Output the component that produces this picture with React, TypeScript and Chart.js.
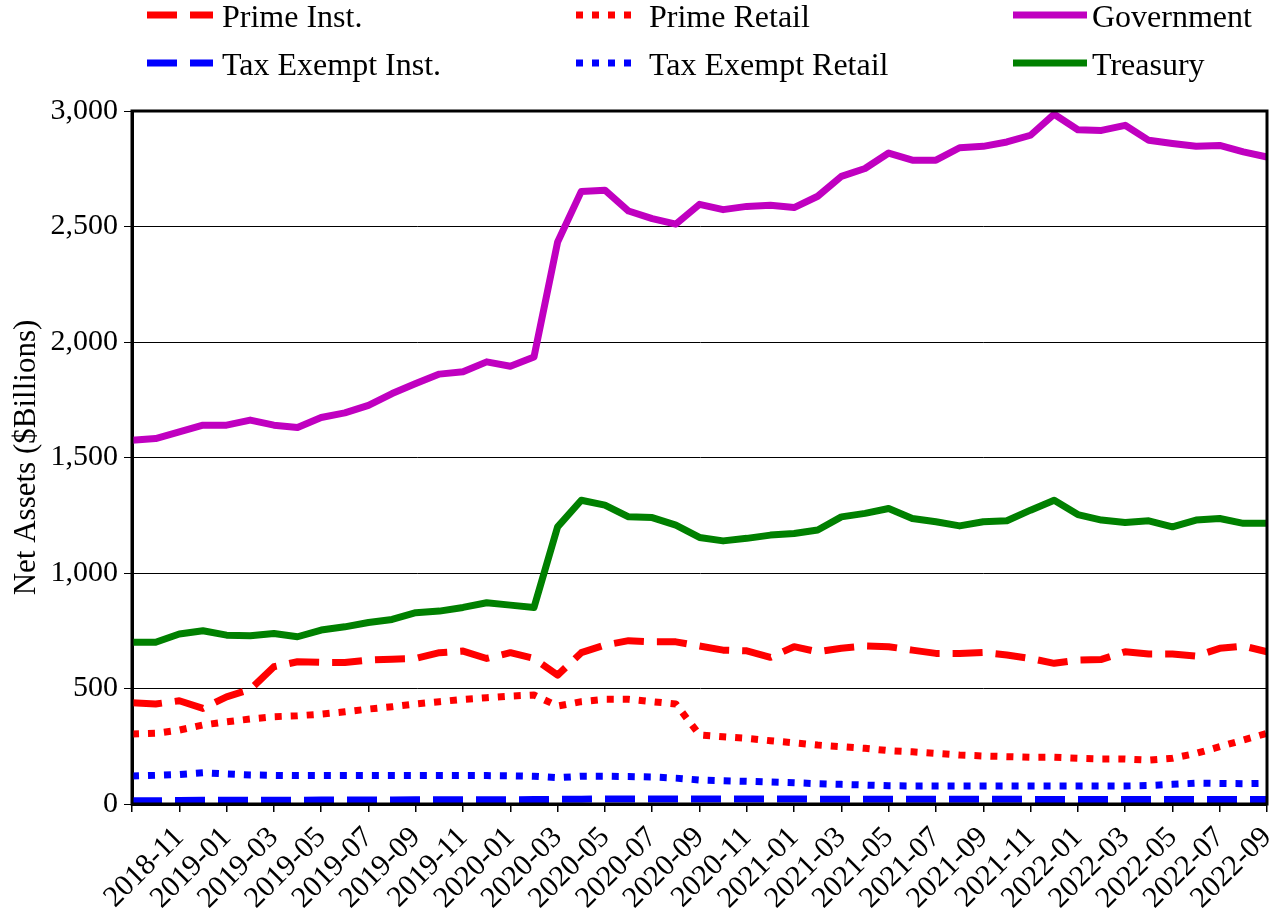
import React, { useEffect, useRef } from 'react';
import { Chart, registerables } from 'chart.js';

Chart.register(...registerables);

const months = [
  '2018-09', '2018-10', '2018-11', '2018-12',
  '2019-01', '2019-02', '2019-03', '2019-04', '2019-05', '2019-06', '2019-07', '2019-08', '2019-09', '2019-10', '2019-11', '2019-12',
  '2020-01', '2020-02', '2020-03', '2020-04', '2020-05', '2020-06', '2020-07', '2020-08', '2020-09', '2020-10', '2020-11', '2020-12',
  '2021-01', '2021-02', '2021-03', '2021-04', '2021-05', '2021-06', '2021-07', '2021-08', '2021-09', '2021-10', '2021-11', '2021-12',
  '2022-01', '2022-02', '2022-03', '2022-04', '2022-05', '2022-06', '2022-07', '2022-08', '2022-09',
];

const primeInst = [438, 433, 447, 414, 464, 496, 594, 616, 613, 613, 623, 627, 630, 655, 662, 630, 655, 630,
  558, 655, 688, 707, 702, 702, 684, 666, 663, 635, 681, 659, 674, 684, 681,
  666, 652, 652, 656, 645, 630, 609, 623, 626, 659, 649, 649, 640, 674, 684, 659];

const primeRetail = [303, 306, 320, 342, 356, 368, 378, 382, 389, 399, 411, 421, 433, 443, 453, 460, 467, 472,
  424, 443, 453, 453, 443, 433, 299, 291, 284, 274, 265, 255, 248, 241, 231,
  226, 219, 212, 208, 205, 202, 202, 198, 195, 195, 190, 198, 219, 248, 277, 306];

const government = [1575, 1582, 1611, 1640, 1640, 1662, 1640, 1630, 1673, 1693, 1726, 1777, 1820, 1861, 1871, 1914, 1895, 1935,
  2433, 2652, 2657, 2567, 2534, 2510, 2596, 2573, 2587, 2592, 2582, 2631, 2717, 2751, 2818,
  2787, 2787, 2841, 2847, 2866, 2895, 2986, 2919, 2916, 2938, 2873, 2859, 2847, 2851, 2823, 2801];

const taxExemptInst = [14, 14, 15, 16, 16, 16, 16, 16, 17, 17, 17, 17, 18, 18, 18, 18, 18, 19, 20, 21,
  22, 22, 22, 22, 22, 22, 22, 22, 22, 21, 21, 21, 21, 21, 21, 21, 21, 21,
  20, 20, 20, 20, 20, 20, 20, 20, 20, 20, 20];

const taxExemptRetail = [121, 124, 128, 135, 130, 126, 124, 123, 123, 123, 123, 123, 123, 123, 123, 123, 122, 120, 114, 120, 120, 119, 117, 112,
  104, 101, 98, 95, 92, 88, 85, 82, 79,
  78, 78, 78, 78, 78, 78, 78, 78, 78, 78,
  80, 85, 90, 89, 88, 89];

const treasury = [700, 700, 736, 750, 731, 728, 738, 724, 753, 767, 786, 799, 828, 835, 851, 871, 861, 851,
  1200, 1315, 1294, 1243, 1240, 1207, 1154, 1139, 1150, 1164, 1171, 1186, 1243, 1258, 1279,
  1236, 1222, 1204, 1222, 1226, 1272, 1315, 1253, 1229, 1219, 1226, 1200, 1229, 1236, 1215, 1215];

const yTicks = [0, 500, 1000, 1500, 2000, 2500, 3000];

const FONT = '"Liberation Serif", "Times New Roman", serif';
const DASH = [30, 13];
const DOT = [7, 9];

const legendCols = [
  { sx: 147, ex: 213, tx: 222 },
  { sx: 576, ex: 640, tx: 649 },
  { sx: 1013, ex: 1087, tx: 1092 },
];
const legendRows = [{ ly: 15, ty: 27 }, { ly: 63, ty: 75 }];

const gridLegend = {
  id: 'gridLegend',
  afterDraw(chart: any) {
    const ctx = chart.ctx;
    chart.data.datasets.forEach((ds: any, i: number) => {
      const col = legendCols[i % 3];
      const row = legendRows[Math.floor(i / 3)];
      ctx.save();
      ctx.strokeStyle = ds.borderColor;
      ctx.lineWidth = ds.borderWidth;
      ctx.lineCap = 'butt';
      ctx.setLineDash(ds.borderDash || []);
      ctx.beginPath();
      ctx.moveTo(col.sx, row.ly);
      ctx.lineTo(col.ex, row.ly);
      ctx.stroke();
      ctx.setLineDash([]);
      ctx.fillStyle = '#000';
      ctx.font = `32px ${FONT}`;
      ctx.textAlign = 'left';
      ctx.textBaseline = 'alphabetic';
      ctx.fillText(ds.label, col.tx, row.ty);
      ctx.restore();
    });
  },
};

const frame = {
  id: 'frame',
  afterDraw(chart: any) {
    const { ctx, chartArea } = chart;
    ctx.save();
    ctx.strokeStyle = '#000';
    ctx.lineWidth = 3;
    ctx.strokeRect(chartArea.left, chartArea.top, chartArea.right - chartArea.left, chartArea.bottom - chartArea.top);
    ctx.restore();
  },
};

function line(label: string, data: number[], color: string, dash: number[]) {
  return {
    label,
    data,
    borderColor: color,
    backgroundColor: color,
    borderWidth: 7,
    borderDash: dash,
    borderCapStyle: 'butt',
    borderJoinStyle: 'round',
    pointRadius: 0,
    pointHoverRadius: 0,
    tension: 0,
    fill: false,
  };
}

export default function App() {
  const ref = useRef<HTMLCanvasElement>(null);

  useEffect(() => {
    if (!ref.current) return;
    const chart = new Chart(ref.current, {
      type: 'line',
      data: {
        labels: months,
        datasets: [
          line('Prime Inst.', primeInst, '#FF0000', DASH),
          line('Prime Retail', primeRetail, '#FF0000', DOT),
          line('Government', government, '#C000C0', []),
          line('Tax Exempt Inst.', taxExemptInst, '#0000FF', DASH),
          line('Tax Exempt Retail', taxExemptRetail, '#0000FF', DOT),
          line('Treasury', treasury, '#008000', []),
        ] as any,
      },
      options: {
        animation: false,
        responsive: false,
        maintainAspectRatio: false,
        layout: { padding: { top: 111, right: 8, left: 0, bottom: 0 } },
        plugins: {
          legend: { display: false },
          tooltip: { enabled: false },
        },
        scales: {
          x: {
            type: 'category',
            offset: false,
            border: { display: true, color: '#000', width: 3 },
            grid: {
              drawOnChartArea: false,
              drawTicks: true,
              tickLength: 8,
              lineWidth: 1.5,
              color: (c: any) => (c.index % 2 === 0 ? '#000' : 'rgba(0,0,0,0)'),
            },
            ticks: {
              autoSkip: false,
              maxRotation: 45,
              minRotation: 45,
              padding: 8,
              color: '#000',
              font: { family: FONT, size: 30 },
              callback: (_v: any, i: number) => (i % 2 === 0 && i > 0 ? months[i] : ''),
            },
            afterFit: (s: any) => {
              s.height = 107;
              s.paddingLeft = 0;
              s.paddingRight = 0;
            },
          },
          y: {
            min: 0,
            max: 3000,
            afterBuildTicks: (s: any) => {
              s.ticks = yTicks.map((v) => ({ value: v }));
            },
            border: { display: true, color: '#000', width: 3 },
            grid: {
              color: '#000',
              lineWidth: 1,
              drawTicks: true,
              tickLength: 8,
            },
            ticks: {
              padding: 6,
              color: '#000',
              font: { family: FONT, size: 30 },
              callback: (v: any) => Number(v).toLocaleString('en-US'),
            },
            title: {
              display: true,
              text: 'Net Assets ($Billions)',
              color: '#000',
              font: { family: FONT, size: 31 },
              padding: { top: 8, bottom: 0 },
            },
            afterFit: (s: any) => {
              s.width = 132;
              s.paddingTop = 0;
              s.paddingBottom = 0;
            },
          },
        },
      } as any,
      plugins: [gridLegend, frame],
    });
    return () => chart.destroy();
  }, []);

  return (
    <div style={{ position: 'absolute', left: 0, top: 0, width: 1275, height: 911, background: '#fff' }}>
      <canvas ref={ref} width={1275} height={911} style={{ display: 'block' }} />
    </div>
  );
}
